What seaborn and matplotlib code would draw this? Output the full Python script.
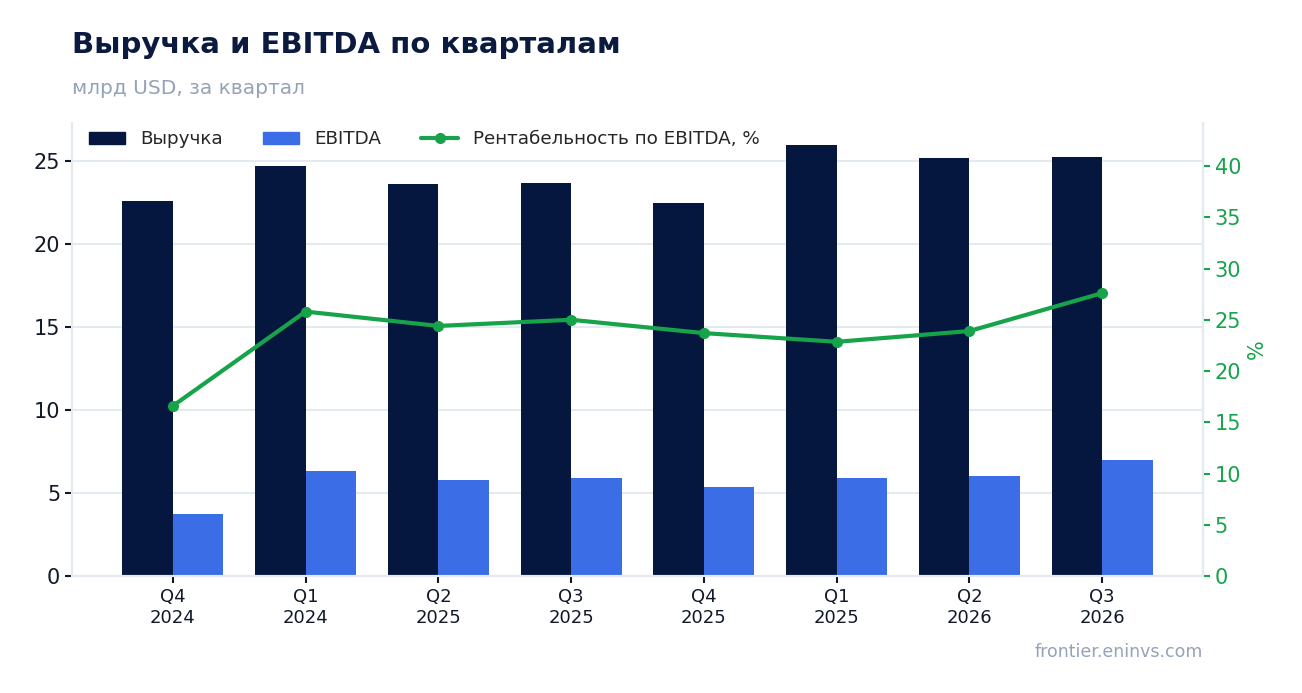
import numpy as np
import pandas as pd
import seaborn as sns
import matplotlib.pyplot as plt
from matplotlib.lines import Line2D
from matplotlib.patches import Patch

quarters = ['Q4\n2024', 'Q1\n2024', 'Q2\n2025', 'Q3\n2025', 'Q4\n2025', 'Q1\n2025', 'Q2\n2026', 'Q3\n2026']
revenue = [22.6, 24.7, 23.6, 23.7, 22.5, 25.95, 25.2, 25.25]
ebitda = [3.73, 6.33, 5.78, 5.90, 5.36, 5.90, 6.02, 6.99]
margin = [16.6, 25.8, 24.4, 25.0, 23.7, 22.85, 23.9, 27.6]

NAVY = '#05163f'
BLUE = '#3b6de6'
GREEN = '#16a34a'
GRID = '#e5e9f0'
GREY = '#94a3b8'

sns.set_theme(style="white")
plt.rcParams['font.family'] = ['DejaVu Sans']

df = pd.DataFrame({
    'quarter': quarters * 2,
    'value': revenue + ebitda,
    'series': ['Выручка'] * len(quarters) + ['EBITDA'] * len(quarters),
})

fig = plt.figure(figsize=(13.02, 6.93), dpi=100)
ax = fig.add_axes([72 / 1302, 1 - 576 / 693, (1203 - 72) / 1302, (576 - 123) / 693])

sns.barplot(data=df, x='quarter', y='value', hue='series', palette=[NAVY, BLUE],
            width=0.76, gap=0, dodge=True, ax=ax, legend=False, saturation=1,
            linewidth=0, edgecolor='none')
ax.set_xlim(-0.76, len(quarters) - 1 + 0.76)
ax.set_ylim(0, 27.3)
ax.set_yticks([0, 5, 10, 15, 20, 25])
ax.set_xlabel('')
ax.set_ylabel('')
ax.grid(axis='y', color=GRID, lw=1.5)
ax.set_axisbelow(True)
for side in ['left', 'bottom', 'right']:
    ax.spines[side].set_color(GRID)
    ax.spines[side].set_linewidth(1.5)
ax.spines['top'].set_visible(False)
ax.tick_params(axis='y', labelsize=15, colors='#111827', length=5, width=1.5, left=True)
ax.tick_params(axis='x', labelsize=13, colors='#111827', length=5, width=1.5, bottom=True)
for lab in ax.get_xticklabels():
    lab.set_linespacing(1.25)

ax2 = ax.twinx()
sns.lineplot(x=np.arange(len(quarters)), y=margin, ax=ax2, color=GREEN, lw=3,
             marker='o', markersize=8, markeredgewidth=0)
ax2.set_ylim(0, 44.2)
ax2.set_yticks([0, 5, 10, 15, 20, 25, 30, 35, 40])
ax2.set_ylabel('%', color=GREEN, fontsize=15)
ax2.tick_params(axis='y', labelsize=15, colors=GREEN, length=5, width=1.5, right=True)
for side in ['left', 'bottom', 'right']:
    ax2.spines[side].set_color(GRID)
    ax2.spines[side].set_linewidth(1.5)
ax2.spines['top'].set_visible(False)
ax2.grid(False)

handles = [
    Patch(color=NAVY, label='Выручка'),
    Patch(color=BLUE, label='EBITDA'),
    Line2D([], [], color=GREEN, lw=3, marker='o', markersize=7, label='Рентабельность по EBITDA, %'),
]
ax.legend(handles=handles, loc='upper left', ncol=3, frameon=False, fontsize=13.2,
          bbox_to_anchor=(0.0, 1.02), handlelength=2.0, columnspacing=2.2)

fig.text(72 / 1302, 1 - 45 / 693, 'Выручка и EBITDA по кварталам', fontsize=21,
         fontweight='bold', color='#0b1a3f', va='center')
fig.text(72 / 1302, 1 - 88 / 693, 'млрд USD, за квартал', fontsize=14.5, color=GREY, va='center')
fig.text(1203 / 1302, 1 - 652 / 693, 'frontier.eninvs.com', fontsize=12.5, color=GREY,
         ha='right', va='center')

fig.savefig('out.png', dpi=100)
